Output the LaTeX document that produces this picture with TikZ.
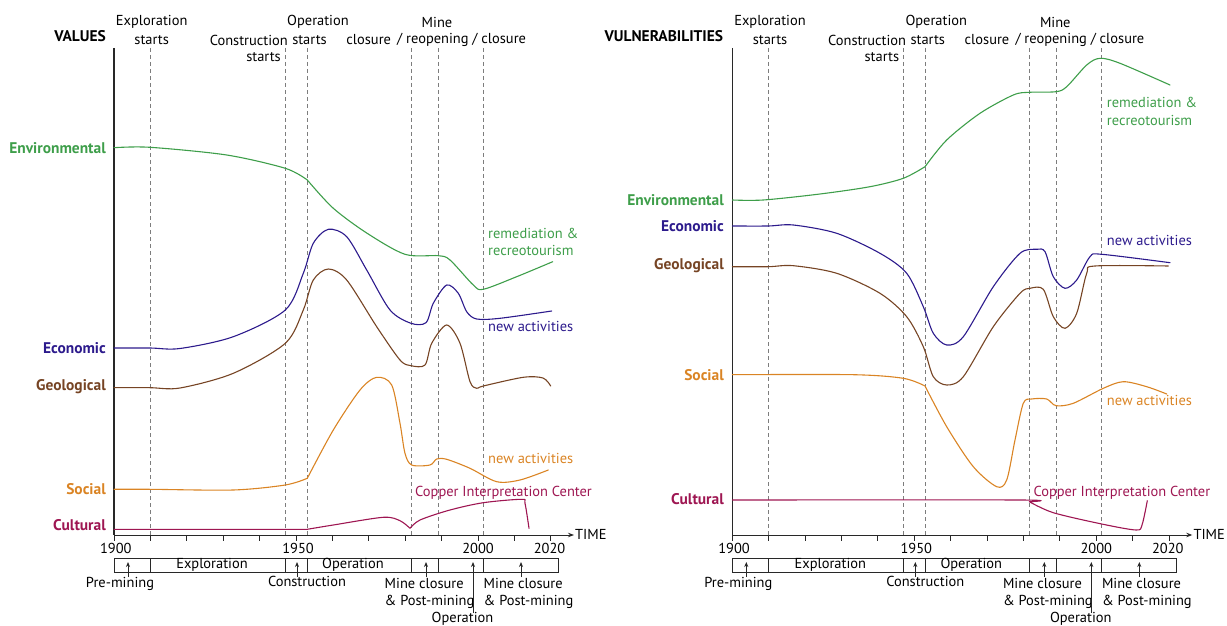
\documentclass[tikz,border=0pt]{standalone}
\usepackage{fontspec}
\setmainfont{PT Sans}
\usetikzlibrary{arrows.meta}

\definecolor{envgreen}{RGB}{62,158,74}
\definecolor{ecoblue}{RGB}{44,26,140}
\definecolor{geobrown}{RGB}{118,68,36}
\definecolor{socorange}{RGB}{218,132,36}
\definecolor{culmagenta}{RGB}{158,22,82}
\definecolor{dashgray}{RGB}{125,125,125}
\definecolor{axisgray}{RGB}{40,40,40}

\tikzset{
  lbl/.style={font=\fontsize{14.5}{16}\selectfont, inner sep=0pt},
  cat/.style={font=\bfseries\fontsize{15.5}{17}\selectfont, inner sep=0pt, anchor=east},
  curve/.style={line width=1.1bp, line cap=round, line join=round},
  guide/.style={dashgray, dash pattern=on 4bp off 3bp, line width=0.8bp},
  axisline/.style={axisgray, line width=1.3bp},
  tickline/.style={axisgray, line width=0.9bp},
  bar/.style={axisgray, line width=0.9bp},
  uparrow/.style={axisgray, line width=0.9bp, -{Stealth[length=5bp,width=4bp]}},
}

\begin{document}
\begin{tikzpicture}[x=1bp,y=-1bp]
\useasboundingbox (0,0) rectangle (1227,626);

% common frame: guides, axes, timeline bar and phase labels
\foreach \sx/\pn in {0/L,618.3/R}{
\begin{scope}[shift={(\sx,0)}]
  \foreach \g in {150,285.3,307.3,411,438.3,483.3}
    \draw[guide] (\g,48) -- (\g,535);
  \coordinate (top-\pn) at (114,48);
  \coordinate (o-\pn) at (114,535);
  \coordinate (end-\pn) at (574,535);
  \draw[axisline] (top-\pn) -- (o-\pn);
  \draw[axisline,line width=1bp,-{Stealth[length=6bp,width=4.5bp]}] (o-\pn) -- (end-\pn);
  \node[lbl,anchor=west] (time-\pn) at (575,534) {TIME};
  \foreach \k in {0,...,12}
    \draw[tickline] (114+36.4*\k,535) -- ++(0,6);
  \node[lbl] (y1900-\pn) at (115.8,548) {1900};
  \node[lbl] (y1950-\pn) at (298,548) {1950};
  \node[lbl] (y2000-\pn) at (478,548) {2000};
  \node[lbl] (y2020-\pn) at (549.5,548) {2020};

  % phase bar
  \draw[bar] (114,558) rectangle (558,572);
  \foreach \g in {150,285.3,307.3,411,438.3,483.3}
    \draw[bar] (\g,558) -- (\g,572);
  \node[lbl] (expl-\pn) at (212,565) {Exploration};
  \node[lbl] (oper-\pn) at (353,565) {Operation};

  % phase pointers
  \node[lbl,anchor=north] (pre-\pn) at (120,577) {Pre-mining};
  \node[lbl,anchor=north] (cons-\pn) at (307,576) {Construction};
  \node[lbl,anchor=north west,align=left] (mc1-\pn) at (384.5,578) {Mine closure\\[1bp]\& Post-mining};
  \node[lbl,anchor=north west,align=left] (mc2-\pn) at (483.5,578) {Mine closure\\[1bp]\& Post-mining};
  \node[lbl,anchor=north] (op2-\pn) at (462.5,612) {Operation};
  \coordinate (a1-\pn) at (128,577);  \coordinate (b1-\pn) at (128,562);
  \coordinate (a2-\pn) at (297,577);  \coordinate (b2-\pn) at (297,562);
  \coordinate (a3-\pn) at (426,577);  \coordinate (b3-\pn) at (426,562);
  \coordinate (a4-\pn) at (473,613);  \coordinate (b4-\pn) at (473,562);
  \coordinate (a5-\pn) at (521,577);  \coordinate (b5-\pn) at (521,562);
  \foreach \i in {1,...,5}
    \draw[uparrow] (a\i-\pn) -- (b\i-\pn);

  % event labels above the plot
  \node[lbl] (ex1-\pn) at (151.7,22) {Exploration};
  \node[lbl] (ex2-\pn) at (151.7,40) {starts};
  \node[lbl,anchor=east] (cs1-\pn) at (288,40) {Construction};
  \node[lbl,anchor=east] (cs2-\pn) at (281,57) {starts};
  \node[lbl] (os1-\pn) at (318,22) {Operation};
  \node[lbl] (os2-\pn) at (309.5,40) {starts};
  \node[lbl] (cl-\pn) at (368.7,40) {closure};
  \node[lbl] (mn-\pn) at (437,22) {Mine};
  \node[lbl,anchor=west] (ro-\pn) at (397,40) {/ reopening / closure};
\end{scope}
}

% ---------------- VALUES ----------------
\node[cat,black] (valtitle) at (106,36) {VALUES};
\node[cat,envgreen] (envL) at (106,148) {Environmental};
\node[cat,ecoblue] (ecoL) at (106,348) {Economic};
\node[cat,geobrown] (geoL) at (106,387) {Geological};
\node[cat,socorange] (socL) at (106,489) {Social};
\node[cat,culmagenta] (culL) at (106,525) {Cultural};

\draw[curve,envgreen] plot[smooth] coordinates {(114,147.7) (150,147.3) (226.7,155) (285.3,168.3) (307.3,180)}
  plot[smooth] coordinates {(307.3,180) (333,208) (366.7,233) (405,254.3) (438.3,255.7) (450,260) (473.3,285) (483.3,289.3) (516.7,276.7) (552.7,261.7)};
\draw[curve,ecoblue] plot[smooth] coordinates {(114,348) (150,348) (180,348.5) (233.3,336.7) (285.3,310) (303.3,273.3) (313.3,243.3) (328.3,229.3) (346.7,236.7) (366.7,270) (390,310) (411,323.3) (426,322.7) (433.3,303.3) (446.7,285) (458.3,293.3) (466.7,311.7) (476.7,319) (500,318.3) (551.7,311)};
\draw[curve,geobrown] plot[smooth] coordinates {(114,387.7) (150,387.7) (180,388) (233.3,373.3) (285.3,343.3) (303.3,310) (313.3,280) (328.3,269) (346.7,280) (376.7,326.7) (400,360) (411,365.7) (425,365) (431.7,343.3) (446.7,325) (460,343.3) (470,381.7) (476.7,388.3) (483.3,386) (523.3,377.3) (543,378) (550.7,386)};
\draw[curve,socorange] plot[smooth] coordinates {(114,489.3) (150,489.3) (233.3,490) (285.3,485) (307.3,478.3)}
  plot[smooth] coordinates {(307.3,478.3) (333.3,430) (360,390) (376.7,377.3) (391.7,385) (400,423.3) (405,453.3) (411.7,465) (430,465) (436.7,459) (446.7,459.3) (470,468.3) (496.7,481.7) (520,480) (548.3,470)};
\draw[curve,culmagenta] plot[smooth] coordinates {(114,529.3) (307.3,529.3)}
  plot[smooth] coordinates {(307.3,529.3) (333.3,525) (383.3,517.3) (400,520.7) (410,528.3)}
  plot[smooth] coordinates {(410,528.3) (420,520) (450,510) (483.3,502.7) (521.7,499.3) (525,503.3) (529,528.3)};

\node[lbl,envgreen,anchor=west] (remL) at (488,233.3) {remediation \&};
\node[lbl,envgreen,anchor=west] (recL) at (488,250.7) {recreotourism};
\node[lbl,ecoblue,anchor=west] (naL1) at (488,326.7) {new activities};
\node[lbl,socorange,anchor=west] (naL2) at (488,458.3) {new activities};
\node[lbl,culmagenta,anchor=west] (cicL) at (415,492.3) {Copper Interpretation Center};

% ---------------- VULNERABILITIES ----------------
\node[cat,black] (vultitle) at (723.3,36) {VULNERABILITIES};
\node[cat,envgreen] (envR) at (724,200) {Environmental};
\node[cat,ecoblue] (ecoR) at (724,226) {Economic};
\node[cat,geobrown] (geoR) at (724,266) {Geological};
\node[cat,socorange] (socR) at (724,375) {Social};
\node[cat,culmagenta] (culR) at (724,499) {Cultural};

\draw[curve,envgreen] plot[smooth] coordinates {(732.3,200) (763.3,200) (820,194) (870,186.7) (903.3,178.3) (925,166.7)}
  plot[smooth] coordinates {(925,166.7) (946.7,140) (980,113.3) (1013.3,95) (1029.3,92.3) (1056,91.7) (1066.7,86.7) (1086.7,65) (1100,58.3) (1120,63.3) (1170,85)};
\draw[curve,ecoblue] plot[smooth] coordinates {(732.3,226) (768.3,226) (793.3,225) (836.7,233.3) (880,253.3) (906.7,273.3) (923.3,306.7) (933.3,333.3) (946.7,345) (963.3,336.7) (993.3,286.7) (1020,253.3) (1036.7,249.3) (1045,251.7) (1053.3,276.7) (1065,288.3) (1076.7,280) (1090,256.7) (1101.7,254.3) (1170,262.7)};
\draw[curve,geobrown] plot[smooth] coordinates {(732.3,266.7) (768.3,266.7) (793.3,265.7) (836.7,273.3) (880,293.3) (906.7,316.7) (923.3,346.7) (933.3,376.7) (946.7,385) (963.3,376.7) (993.3,326.7) (1020,293.3) (1030,288.3) (1043.3,289.3) (1053.3,316.7) (1065,328.3) (1076.7,313.3) (1086.7,273.3) (1095,266) (1168.3,266)};
\draw[curve,socorange] plot[smooth] coordinates {(732.3,374.7) (853.3,374.7) (903.3,378.3) (925,386)}
  plot[smooth] coordinates {(925,386) (946.7,426.7) (973.3,466.7) (996.7,486.7) (1006.7,480) (1015,440) (1023.3,403.3) (1031.7,399) (1046.7,399) (1056,405.7) (1073.3,403.3) (1103.3,388.3) (1123.3,381.7) (1146.7,386.7) (1166.7,394)};
\draw[curve,culmagenta] plot[smooth] coordinates {(732.3,500) (1020,500) (1029.3,501.7)}
  plot[smooth] coordinates {(1029.3,501.7) (1053.3,512.7) (1101.7,524) (1136,530) (1142,525) (1147.3,500.7)};

\node[lbl,envgreen,anchor=west] (remR) at (1106.7,102.3) {remediation \&};
\node[lbl,envgreen,anchor=west] (recR) at (1106.7,120) {recreotourism};
\node[lbl,ecoblue,anchor=west] (naR1) at (1106.7,240) {new activities};
\node[lbl,socorange,anchor=west] (naR2) at (1106.7,400) {new activities};
\node[lbl,culmagenta,anchor=west] (cicR) at (1033.3,492.3) {Copper Interpretation Center};
\end{tikzpicture}
\end{document}
